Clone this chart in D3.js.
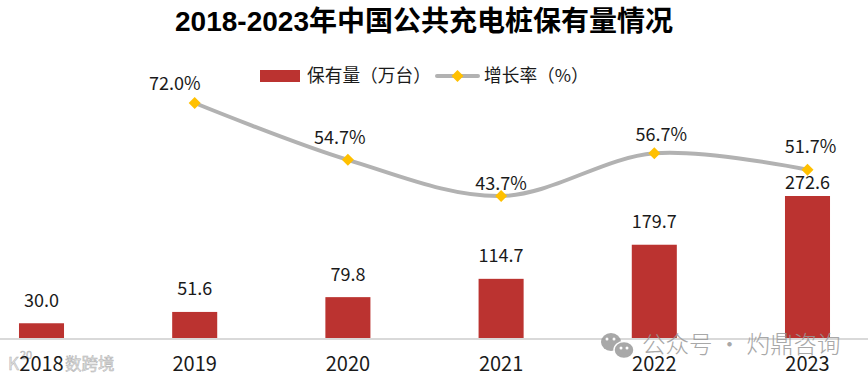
<!DOCTYPE html>
<html>
<head>
<meta charset="utf-8">
<script src="https://d3js.org/d3.v7.min.js"></script>
<style>
  html, body { margin: 0; padding: 0; background: #fff; }
  svg { display: block; }
  text { font-family: "Noto Sans CJK SC", "Open Sans", sans-serif; fill: #1a1a1a; }
</style>
</head>
<body>
<div id="chart"></div>
<script>
var years = ['2018', '2019', '2020', '2021', '2022', '2023'];
var stock = [30.0, 51.6, 79.8, 114.7, 179.7, 272.6];
var growth = [null, 72.0, 54.7, 43.7, 56.7, 51.7];

var width = 868, height = 379, baseline = 339;

var svg = d3.select('#chart').append('svg')
    .attr('width', width)
    .attr('height', height);

// plot runs past the edges of the picture, the first and last bands are cropped
var x = d3.scaleBand()
    .domain(years)
    .range([-35.1, 884.1])
    .paddingInner(0.706)
    .paddingOuter(0.353);

var yBar = d3.scaleLinear().domain([0, 272.6]).range([baseline, 196]);
var yLine = d3.scaleLinear().domain([43.7, 72.0]).range([196, 103]);

function cx(d) { return x(d) + x.bandwidth() / 2; }

// labels were dragged by hand in the original
var barNudge = {'2023': 9};
var lineNudge = {
  '2019': [-20, 0],
  '2020': [-8, -3],
  '2021': [0, 7],
  '2022': [7, 1],
  '2023': [3, -4]
};

// rotated square, d3.symbolDiamond comes out too narrow
var diamond = d3.symbol(d3.symbolSquare, 72);

svg.append('text')
    .attr('x', 424)
    .attr('y', 31)
    .attr('text-anchor', 'middle')
    .style('font-family', '"Liberation Sans", "Noto Sans CJK SC", sans-serif')
    .style('font-size', '28px')
    .style('font-weight', 700)
    .style('fill', '#000')
    .text('2018-2023年中国公共充电桩保有量情况');

// legend
var legend = svg.append('g');
legend.append('rect').attr('x', 260).attr('y', 70).attr('width', 40).attr('height', 12).attr('fill', '#bb3330');
legend.append('text').attr('x', 307).attr('y', 82).style('font-size', '17.7px').text('保有量（万台）');
legend.append('line').attr('x1', 437).attr('x2', 478).attr('y1', 76).attr('y2', 76)
    .attr('stroke', '#b2b2b2').attr('stroke-width', 4).attr('stroke-linecap', 'round');
legend.append('path').attr('transform', 'translate(457.5,76) rotate(45)')
    .attr('d', diamond).attr('fill', '#ffc000');
legend.append('text').attr('x', 484).attr('y', 82).style('font-size', '17.7px').text('增长率（%）');

// left watermark goes under the year labels
var mark = svg.append('g')
    .style('opacity', 0.8);
mark.append('text').attr('x', 8).attr('y', 370).style('font-size', '17px').text('K');
mark.append('text').attr('x', 20).attr('y', 359).style('font-size', '11px').text('20');
mark.append('text').attr('x', 65).attr('y', 370).style('font-size', '16.5px').text('数跨境');
mark.selectAll('text')
    .style('fill', '#dcdcdc')
    .style('stroke', '#a0a0a0')
    .style('stroke-width', 0.5);

// bars
svg.selectAll('.bar')
    .data(years)
    .enter().append('rect')
    .attr('class', 'bar')
    .attr('x', function (d) { return x(d); })
    .attr('width', x.bandwidth())
    .attr('y', function (d, i) { return yBar(stock[i]); })
    .attr('height', function (d, i) { return baseline - yBar(stock[i]); })
    .attr('fill', '#bb3330');

svg.append('line')
    .attr('x1', 0).attr('x2', width)
    .attr('y1', baseline).attr('y2', baseline)
    .attr('stroke', '#d9d9d9')
    .attr('stroke-width', 2);

svg.selectAll('.bar-label')
    .data(years)
    .enter().append('text')
    .attr('class', 'bar-label')
    .attr('x', cx)
    .attr('y', function (d, i) { return yBar(stock[i]) - 16.5 + (barNudge[d] || 0); })
    .attr('text-anchor', 'middle')
    .style('font-size', '18px')
    .text(function (d, i) { return stock[i].toFixed(1); });

svg.selectAll('.year')
    .data(years)
    .enter().append('text')
    .attr('class', 'year')
    .attr('x', cx)
    .attr('y', 371)
    .attr('text-anchor', 'middle')
    .style('font-size', '20px')
    .text(function (d) { return d; });

// growth line, 2018 has no value
var pts = years.map(function (d, i) { return {year: d, v: growth[i]}; })
    .filter(function (d) { return d.v !== null; });

var line = d3.line()
    .curve(d3.curveCatmullRom.alpha(0.5))
    .x(function (d) { return cx(d.year); })
    .y(function (d) { return yLine(d.v); });

svg.append('path')
    .datum(pts)
    .attr('d', line)
    .attr('fill', 'none')
    .attr('stroke', '#b2b2b2')
    .attr('stroke-width', 4)
    .attr('stroke-linecap', 'round');

svg.selectAll('.pt')
    .data(pts)
    .enter().append('path')
    .attr('class', 'pt')
    .attr('transform', function (d) { return 'translate(' + cx(d.year) + ',' + yLine(d.v) + ') rotate(45)'; })
    .attr('d', diamond)
    .attr('fill', '#ffc000');

svg.selectAll('.pt-label')
    .data(pts)
    .enter().append('text')
    .attr('class', 'pt-label')
    .attr('x', function (d) { return cx(d.year) + lineNudge[d.year][0]; })
    .attr('y', function (d) { return yLine(d.v) - 13 + lineNudge[d.year][1]; })
    .attr('text-anchor', 'middle')
    .style('font-size', '18px')
    .text(function (d) { return d.v.toFixed(1) + '%'; });

// right watermark with the wechat bubbles
var wm = svg.append('g').style('opacity', 0.85);
wm.append('ellipse').attr('cx', 611).attr('cy', 342).attr('rx', 10).attr('ry', 9).attr('fill', '#999');
wm.append('ellipse').attr('cx', 624).attr('cy', 350).attr('rx', 10).attr('ry', 8.5)
    .attr('fill', '#999').attr('stroke', '#fff').attr('stroke-width', 1.5);
[[607, 339], [614, 339], [621, 348], [627, 348]].forEach(function (p) {
  wm.append('circle').attr('cx', p[0]).attr('cy', p[1]).attr('r', 1.5).attr('fill', '#fff');
});
wm.append('text')
    .attr('x', 642).attr('y', 353)
    .style('font-size', '23.5px')
    .style('font-weight', 300)
    .style('fill', '#999')
    .text('公众号 · 灼鼎咨询');
</script>
</body>
</html>
